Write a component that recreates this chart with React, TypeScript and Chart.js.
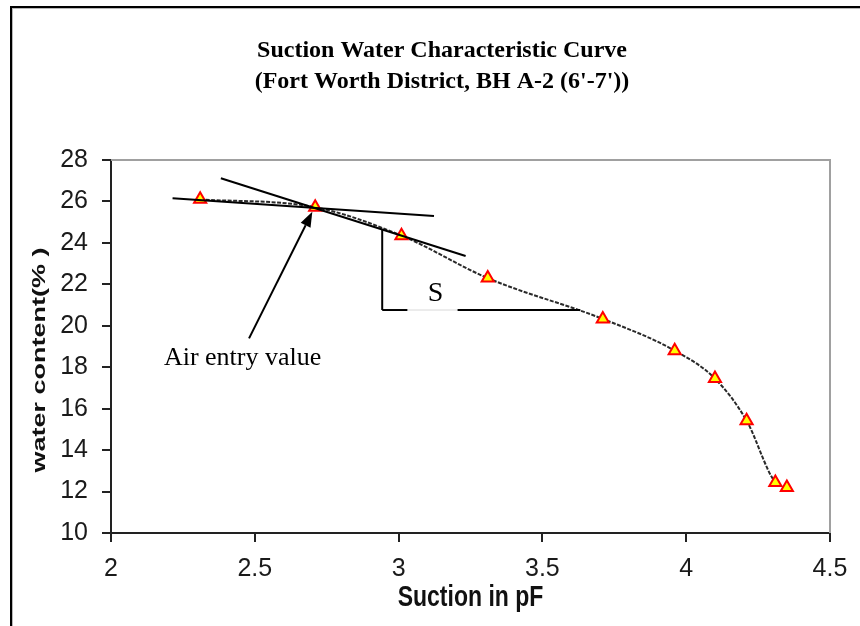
import React, { useEffect, useRef } from "react";
import { Chart, registerables } from "chart.js";

Chart.register(...registerables);

// ---- data ----
const suction = [2.31, 2.71, 3.01, 3.31, 3.71, 3.96, 4.1, 4.21, 4.31, 4.35];
const waterContent = [26.1, 25.72, 24.35, 22.3, 20.33, 18.8, 17.45, 15.42, 12.44, 12.2];
const xTicks = [2, 2.5, 3, 3.5, 4, 4.5];
const yTicks = [10, 12, 14, 16, 18, 20, 22, 24, 26, 28];
const titleLines = ["Suction Water Characteristic Curve", "(Fort Worth District, BH A-2 (6'-7'))"];
const xTitle = "Suction in pF";
const yTitle = "water content(% )";

// annotation geometry (data units)
const tangentA = [[2.214, 26.15], [3.123, 25.3]];
const tangentB = [[2.382, 27.12], [3.233, 23.37]];
const slopeVertical = [[2.943, 24.62], [2.943, 20.76]];
const slopeHorizontalA = [[2.943, 20.76], [3.031, 20.76]];
const slopeHorizontalB = [[3.205, 20.76], [3.632, 20.76]];
const arrowLine = [[2.48, 19.39], [2.7, 25.5]];
const airEntryLabel = { text: "Air entry value", x: 2.184, y: 18.11 };
const slopeLabel = { text: "S", x: 3.128, y: 21.21 };

const decor = {
  id: "decor",
  beforeDraw(chart: any) {
    const { ctx, width, height } = chart;
    ctx.save();
    ctx.fillStyle = "#ffffff";
    ctx.fillRect(0, 0, width, height);
    ctx.strokeStyle = "#000";
    ctx.lineWidth = 2;
    ctx.strokeRect(11, 7, width + 50, height + 50);
    ctx.strokeStyle = "#b8b8b8";
    ctx.lineWidth = 1;
    ctx.strokeRect(12.5, 8.5, width + 50, height + 50);
    ctx.restore();
  },
  beforeDatasetsDraw(chart: any) {
    const { ctx, chartArea } = chart;
    ctx.save();
    ctx.strokeStyle = "#a0a0a0";
    ctx.lineWidth = 2;
    ctx.beginPath();
    ctx.moveTo(chartArea.left, chartArea.top);
    ctx.lineTo(chartArea.right, chartArea.top);
    ctx.lineTo(chartArea.right, chartArea.bottom);
    ctx.stroke();
    ctx.restore();
  },
  afterDatasetsDraw(chart: any) {
    const { ctx } = chart;
    const xs = chart.scales.x;
    const ys = chart.scales.y;
    const P = (p: number[]) => [xs.getPixelForValue(p[0]), ys.getPixelForValue(p[1])];
    const seg = (a: number[][], color = "#000", w = 2) => {
      const p0 = P(a[0]);
      const p1 = P(a[1]);
      ctx.strokeStyle = color;
      ctx.lineWidth = w;
      ctx.beginPath();
      ctx.moveTo(p0[0], p0[1]);
      ctx.lineTo(p1[0], p1[1]);
      ctx.stroke();
    };
    ctx.save();
    ctx.lineCap = "butt";
    seg(tangentA);
    seg(tangentB);
    seg(slopeVertical);
    seg(slopeHorizontalA);
    seg([slopeHorizontalA[1], slopeHorizontalB[0]], "#d8d8d8", 1);
    seg(slopeHorizontalB);
    // arrow
    const t = P(arrowLine[0]);
    const h = P(arrowLine[1]);
    const ang = Math.atan2(h[1] - t[1], h[0] - t[0]);
    const hl = 15;
    const hw = 5.5;
    const bx = h[0] - hl * Math.cos(ang);
    const by = h[1] - hl * Math.sin(ang);
    ctx.strokeStyle = "#000";
    ctx.lineWidth = 2;
    ctx.beginPath();
    ctx.moveTo(t[0], t[1]);
    ctx.lineTo(bx, by);
    ctx.stroke();
    ctx.fillStyle = "#000";
    ctx.beginPath();
    ctx.moveTo(h[0], h[1]);
    ctx.lineTo(bx + hw * Math.sin(ang), by - hw * Math.cos(ang));
    ctx.lineTo(bx - hw * Math.sin(ang), by + hw * Math.cos(ang));
    ctx.closePath();
    ctx.fill();
    // labels
    ctx.fillStyle = "#000";
    ctx.textBaseline = "alphabetic";
    ctx.font = "26px 'Liberation Serif', 'Times New Roman', serif";
    ctx.textAlign = "left";
    const a = P([airEntryLabel.x, airEntryLabel.y]);
    ctx.fillText(airEntryLabel.text, a[0], a[1]);
    ctx.font = "28px 'Liberation Serif', 'Times New Roman', serif";
    ctx.textAlign = "center";
    const s = P([slopeLabel.x, slopeLabel.y]);
    ctx.fillText(slopeLabel.text, s[0], s[1]);
    ctx.restore();
  },
  afterDraw(chart: any) {
    const { ctx, chartArea } = chart;
    ctx.save();
    ctx.fillStyle = "#000";
    ctx.textAlign = "center";
    ctx.textBaseline = "alphabetic";
    ctx.font = "bold 24px 'Liberation Serif', 'Times New Roman', serif";
    ctx.fillText(titleLines[0], 442, 57);
    ctx.fillText(titleLines[1], 442, 88);
    // x title
    ctx.fillStyle = "#111";
    ctx.save();
    ctx.translate((chartArea.left + chartArea.right) / 2, 598);
    ctx.scale(1, 1.25);
    ctx.font = "bold 23px 'Liberation Sans', Arial, sans-serif";
    ctx.textBaseline = "middle";
    ctx.fillText(xTitle, 0, 0);
    ctx.restore();
    // y title
    ctx.save();
    ctx.translate(40, 360);
    ctx.rotate(-Math.PI / 2);
    ctx.scale(1.5, 1);
    ctx.font = "bold 18px 'Liberation Sans', Arial, sans-serif";
    ctx.textBaseline = "middle";
    ctx.fillText(yTitle, 0, 0);
    ctx.restore();
    ctx.restore();
  },
};

export default function App() {
  const ref = useRef<HTMLCanvasElement | null>(null);
  useEffect(() => {
    document.body.style.margin = "0";
    const canvas = ref.current;
    if (!canvas) return;
    const tickFont = { family: "'Liberation Sans', Arial, sans-serif", size: 25 };
    const chart = new Chart(canvas, {
      type: "scatter",
      data: {
        datasets: [
          {
            data: suction.map((x, i) => ({ x, y: waterContent[i] })),
            showLine: true,
            borderColor: "#2a2a2a",
            borderWidth: 2,
            borderDash: [4, 1.5],
            cubicInterpolationMode: "monotone",
            pointStyle: "triangle",
            pointRadius: 7,
            pointHoverRadius: 7,
            pointBackgroundColor: "#ffff00",
            pointBorderColor: "#ff0000",
            pointBorderWidth: 2,
          },
        ],
      },
      options: {
        responsive: false,
        animation: false,
        devicePixelRatio: 1,
        layout: { padding: { left: 0, right: 30, top: 160, bottom: 0 } },
        plugins: { legend: { display: false }, tooltip: { enabled: false }, title: { display: false } },
        scales: {
          x: {
            type: "linear",
            min: xTicks[0],
            max: xTicks[xTicks.length - 1],
            afterBuildTicks: (s: any) => {
              s.ticks = xTicks.map((v) => ({ value: v }));
            },
            afterFit: (s: any) => {
              s.height = 93;
            },
            ticks: {
              font: tickFont,
              color: "#1a1a1a",
              padding: 12,
              maxRotation: 0,
              callback: (v: any) => String(v),
            },
            grid: { drawOnChartArea: false, drawTicks: true, tickLength: 9, color: "#222", lineWidth: 2 },
            border: { display: true, color: "#222", width: 2 },
          },
          y: {
            type: "linear",
            min: yTicks[0],
            max: yTicks[yTicks.length - 1],
            afterBuildTicks: (s: any) => {
              s.ticks = yTicks.map((v) => ({ value: v }));
            },
            afterFit: (s: any) => {
              s.width = 111;
            },
            ticks: {
              font: tickFont,
              color: "#1a1a1a",
              padding: 14,
              callback: (v: any) => String(v),
            },
            grid: { drawOnChartArea: false, drawTicks: true, tickLength: 9, color: "#222", lineWidth: 2 },
            border: { display: true, color: "#222", width: 2 },
          },
        },
      },
      plugins: [decor],
    } as any);
    return () => chart.destroy();
  }, []);
  return (
    <div style={{ width: 860, height: 626, position: "relative" }}>
      <canvas ref={ref} width={860} height={626} style={{ display: "block" }} />
    </div>
  );
}
